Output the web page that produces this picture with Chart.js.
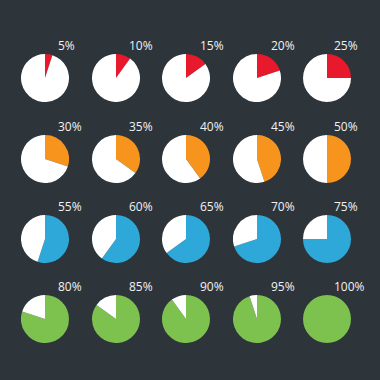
<!DOCTYPE html>
<html>
<head>
<meta charset="UTF-8">
<title>Percentage pies</title>
<script src="https://cdn.jsdelivr.net/npm/chart.js"></script>
<style>
  html, body { margin: 0; padding: 0; background: #2d343a; }
  #board { position: relative; width: 380px; height: 380px; background: #2d343a; overflow: hidden; }
  .pie { position: absolute; width: 48px; height: 48px; }
  .lbl { position: absolute; font-family: "Open Sans", sans-serif; font-size: 12px; line-height: 16px;
         color: #f2f2f2; white-space: nowrap; }
</style>
</head>
<body>
<div id="board"></div>
<script>
const labels = ['5%', '10%', '15%', '20%', '25%',
                '30%', '35%', '40%', '45%', '50%',
                '55%', '60%', '65%', '70%', '75%',
                '80%', '85%', '90%', '95%', '100%'];
const values = [5, 10, 15, 20, 25,
                30, 35, 40, 45, 50,
                55, 60, 65, 70, 75,
                80, 85, 90, 95, 100];
const rowColors = ['#e8192c', '#f7941d', '#2ea8d8', '#7dc24f'];
const restColor = '#ffffff';

// layout of the grid
const colX = [45, 116, 186, 257, 327];
const rowY = [78, 159, 239, 319];
const labelX = [58, 129, 200, 271, 334];
const R = 24;

const board = document.getElementById('board');

values.forEach((v, i) => {
  const col = i % 5, row = Math.floor(i / 5);

  const cv = document.createElement('canvas');
  cv.className = 'pie';
  cv.width = R * 2;
  cv.height = R * 2;
  cv.style.left = (colX[col] - R) + 'px';
  cv.style.top = (rowY[row] - R) + 'px';
  board.appendChild(cv);

  const lbl = document.createElement('div');
  lbl.className = 'lbl';
  lbl.textContent = labels[i];
  lbl.style.left = labelX[col] + 'px';
  lbl.style.top = (rowY[row] - 32 - 8) + 'px';
  board.appendChild(lbl);

  new Chart(cv, {
    type: 'pie',
    data: {
      labels: [labels[i], ''],
      datasets: [{
        data: [v, 100 - v],
        backgroundColor: [rowColors[row], restColor],
        borderWidth: 0
      }]
    },
    options: {
      responsive: false,
      animation: false,
      layout: { padding: 0 },
      plugins: { legend: { display: false }, tooltip: { enabled: false } }
    }
  });
});
</script>
</body>
</html>
